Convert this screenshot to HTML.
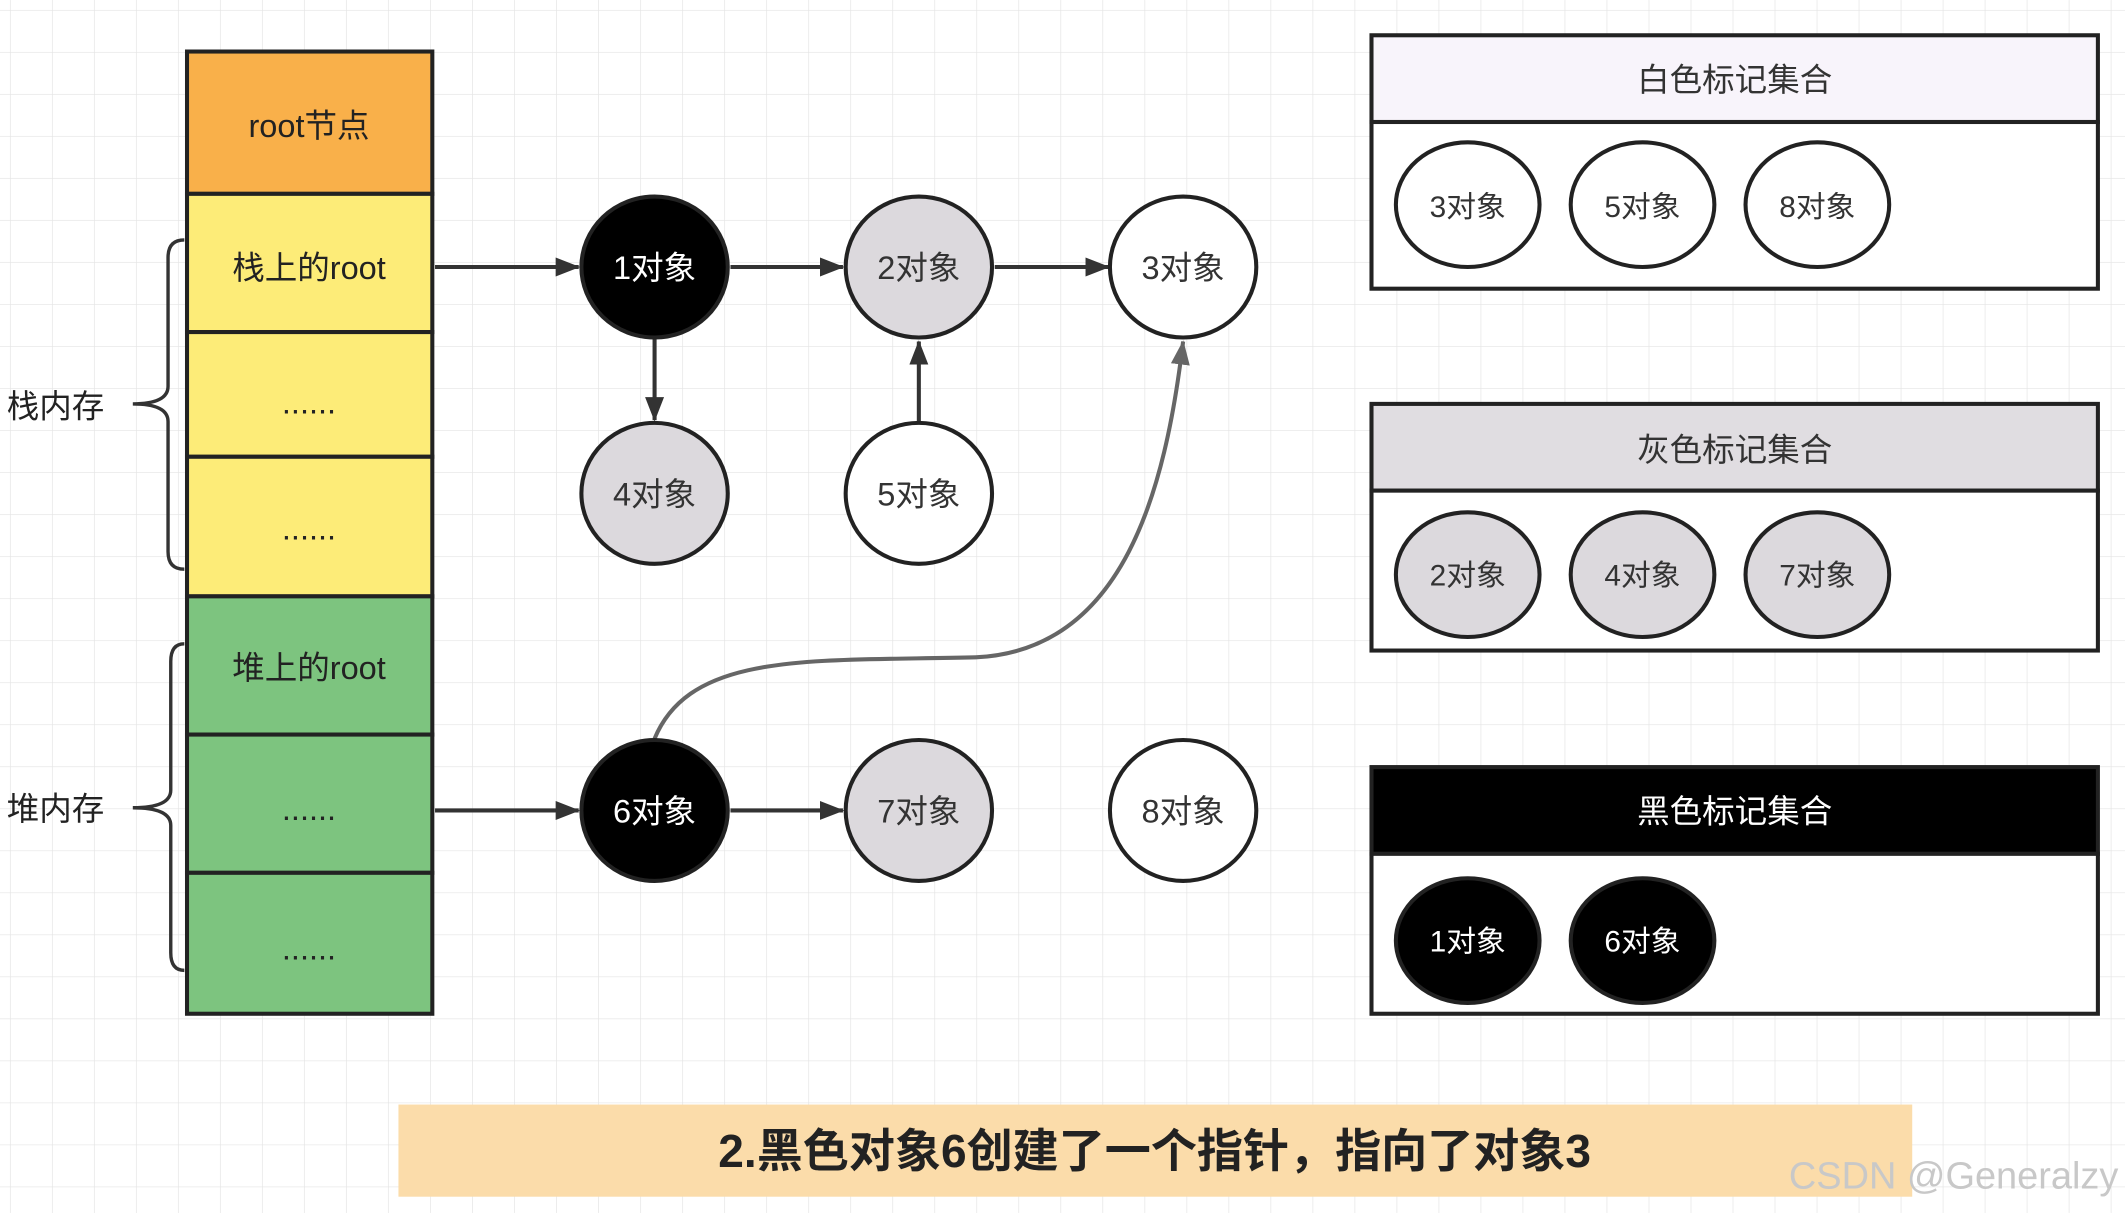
<!DOCTYPE html>
<html><head><meta charset="utf-8"><style>
html,body{margin:0;padding:0;background:#fff;}
svg{display:block;}
text{font-family:"Liberation Sans","Noto Sans CJK SC",sans-serif;}
</style></head><body>
<svg width="2125" height="1213" viewBox="0 0 1568 895" xmlns="http://www.w3.org/2000/svg">
<defs>
<pattern id="g" width="31" height="31" patternUnits="userSpaceOnUse" x="8" y="8">
<path d="M31 0V31M0 31H31" fill="none" stroke="#e4e4e4" stroke-width="1"/>
</pattern>
<marker id="a" markerWidth="18" markerHeight="14" refX="17" refY="7" orient="auto" markerUnits="userSpaceOnUse" viewBox="0 0 18 14">
<path d="M0,0 L18,7 L0,14 Z" fill="#333"/></marker>
<marker id="a2" markerWidth="18" markerHeight="14" refX="17" refY="7" orient="auto" markerUnits="userSpaceOnUse" viewBox="0 0 18 14">
<path d="M0,0 L18,7 L0,14 Z" fill="#666"/></marker>
</defs>
<rect width="1568" height="895" fill="url(#g)"/>
<g stroke="#222" stroke-width="3">
<rect x="138" y="38" width="181" height="105" fill="#f9b04a"/>
<rect x="138" y="143" width="181" height="102" fill="#fdec78"/>
<rect x="138" y="245" width="181" height="92" fill="#fdec78"/>
<rect x="138" y="337" width="181" height="103" fill="#fdec78"/>
<rect x="138" y="440" width="181" height="102" fill="#7dc47f"/>
<rect x="138" y="542" width="181" height="102" fill="#7dc47f"/>
<rect x="138" y="644" width="181" height="104" fill="#7dc47f"/>
</g>
<g font-size="24" fill="#222" text-anchor="middle">
<text x="228" y="101">root节点</text>
<text x="228" y="206">栈上的root</text>
<text x="228" y="305">......</text>
<text x="228" y="398">......</text>
<text x="228" y="501">堆上的root</text>
<text x="228" y="605">......</text>
<text x="228" y="708">......</text>
</g>
<g fill="none" stroke="#333" stroke-width="2.5">
<path d="M136,177 Q124,177 124,190 V285 Q124,298 98,298 Q124,298 124,311 V407 Q124,420 136,420"/>
<path d="M136,475 Q126,475 126,488 V583 Q126,596 98,596 Q126,596 126,609 V703 Q126,716 136,716"/>
</g>
<g font-size="24" fill="#222">
<text x="5" y="308">栈内存</text>
<text x="5" y="605">堆内存</text>
</g>
<g stroke="#333" stroke-width="3" marker-end="url(#a)">
<line x1="321" y1="197" x2="427" y2="197"/>
<line x1="539" y1="197" x2="622" y2="197"/>
<line x1="734" y1="197" x2="818" y2="197"/>
<line x1="483" y1="250" x2="483" y2="310"/>
<line x1="678" y1="311" x2="678" y2="252"/>
<line x1="321" y1="598" x2="427" y2="598"/>
<line x1="539" y1="598" x2="622" y2="598"/>
</g>
<path d="M483,545 C510,480 600,488 720,485 C830,480 860,360 873,252" fill="none" stroke="#666" stroke-width="3" marker-end="url(#a2)"/>
<g stroke="#222" stroke-width="3">
<ellipse cx="483" cy="197" rx="54" ry="52" fill="#000"/>
<ellipse cx="678" cy="197" rx="54" ry="52" fill="#dcd9dd"/>
<ellipse cx="873" cy="197" rx="54" ry="52" fill="#fff"/>
<ellipse cx="483" cy="364" rx="54" ry="52" fill="#dcd9dd"/>
<ellipse cx="678" cy="364" rx="54" ry="52" fill="#fff"/>
<ellipse cx="483" cy="598" rx="54" ry="52" fill="#000"/>
<ellipse cx="678" cy="598" rx="54" ry="52" fill="#dcd9dd"/>
<ellipse cx="873" cy="598" rx="54" ry="52" fill="#fff"/>
</g>
<g font-size="24" text-anchor="middle" fill="#333">
<text x="483" y="206" fill="#fff">1对象</text>
<text x="678" y="206">2对象</text>
<text x="873" y="206">3对象</text>
<text x="483" y="373">4对象</text>
<text x="678" y="373">5对象</text>
<text x="483" y="607" fill="#fff">6对象</text>
<text x="678" y="607">7对象</text>
<text x="873" y="607">8对象</text>
</g>
<g stroke="#222" stroke-width="3">
<rect x="1012" y="26" width="536" height="64" fill="#f8f4fb"/>
<rect x="1012" y="90" width="536" height="123" fill="#fff"/>
<rect x="1012" y="298" width="536" height="64" fill="#e0dde1"/>
<rect x="1012" y="362" width="536" height="118" fill="#fff"/>
<rect x="1012" y="566" width="536" height="64" fill="#000"/>
<rect x="1012" y="630" width="536" height="118" fill="#fff"/>
<ellipse cx="1083" cy="151" rx="53" ry="46" fill="#fff"/>
<ellipse cx="1212" cy="151" rx="53" ry="46" fill="#fff"/>
<ellipse cx="1341" cy="151" rx="53" ry="46" fill="#fff"/>
<ellipse cx="1083" cy="424" rx="53" ry="46" fill="#dcd9dd"/>
<ellipse cx="1212" cy="424" rx="53" ry="46" fill="#dcd9dd"/>
<ellipse cx="1341" cy="424" rx="53" ry="46" fill="#dcd9dd"/>
<ellipse cx="1083" cy="694" rx="53" ry="46" fill="#000"/>
<ellipse cx="1212" cy="694" rx="53" ry="46" fill="#000"/>
</g>
<g font-size="24" text-anchor="middle" fill="#333">
<text x="1280" y="67">白色标记集合</text>
<text x="1280" y="340">灰色标记集合</text>
<text x="1280" y="607" fill="#fff">黑色标记集合</text>
<text x="1083" y="160" font-size="22">3对象</text>
<text x="1212" y="160" font-size="22">5对象</text>
<text x="1341" y="160" font-size="22">8对象</text>
<text x="1083" y="432" font-size="22">2对象</text>
<text x="1212" y="432" font-size="22">4对象</text>
<text x="1341" y="432" font-size="22">7对象</text>
<text x="1083" y="702" font-size="22" fill="#fff">1对象</text>
<text x="1212" y="702" font-size="22" fill="#fff">6对象</text>
</g>
<rect x="294" y="815" width="1117" height="68" fill="#fbdcaa"/>
<text x="852" y="861" font-size="34" font-weight="bold" text-anchor="middle" fill="#222">2.黑色对象6创建了一个指针，指向了对象3</text>
<text x="1320" y="877" font-size="28" fill="#c8c8c8">CSDN @Generalzy</text>
</svg>
</body></html>
